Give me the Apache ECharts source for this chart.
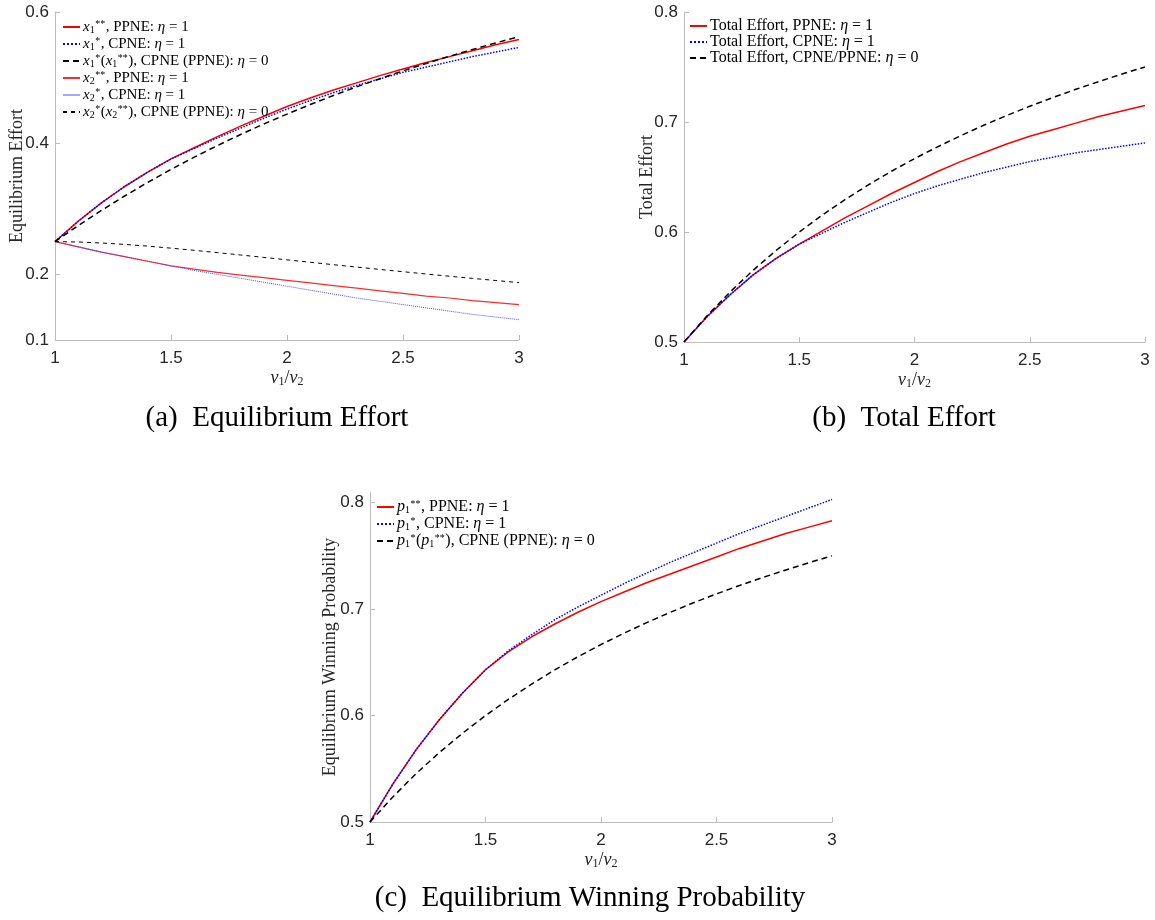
<!DOCTYPE html>
<html>
<head>
<meta charset="utf-8">
<script src="https://cdn.jsdelivr.net/npm/echarts@6/dist/echarts.min.js"></script>
<style>html,body{margin:0;padding:0;background:#fff;}#c{width:1155px;height:920px;}</style>
</head>
<body>
<div id="c"></div>
<script>
// x = v1/v2
const ratio = [1.0,1.1,1.2,1.3,1.4,1.5,1.6,1.7,1.8,1.9,2.0,2.1,2.2,2.3,2.4,2.5,2.6,2.7,2.8,2.9,3.0];
const xTicks = [1, 1.5, 2, 2.5, 3];

// (a) Equilibrium effort
const x1PPNE = [0.25,0.281,0.309,0.334,0.356,0.376,0.393,0.410,0.426,0.441,0.456,0.469,0.481,0.492,0.503,0.513,0.523,0.532,0.541,0.550,0.558];
const x1CPNE = [0.25,0.281,0.309,0.334,0.356,0.376,0.392,0.408,0.423,0.438,0.452,0.465,0.477,0.488,0.498,0.508,0.516,0.524,0.532,0.539,0.546];
const x1Eta0 = [0.25,0.2744,0.2975,0.3195,0.3403,0.36,0.3787,0.3964,0.4133,0.4293,0.4444,0.4589,0.4727,0.4858,0.4983,0.5102,0.5216,0.5325,0.5429,0.5529,0.5625];
const x2PPNE = [0.25,0.242,0.234,0.227,0.220,0.213,0.208,0.203,0.199,0.195,0.191,0.187,0.183,0.179,0.175,0.171,0.167,0.164,0.160,0.157,0.154];
const x2CPNE = [0.25,0.242,0.234,0.227,0.220,0.213,0.206,0.200,0.194,0.188,0.182,0.176,0.170,0.164,0.159,0.154,0.149,0.144,0.139,0.135,0.131];
const x2Eta0 = [0.25,0.2494,0.2479,0.2457,0.2431,0.24,0.2367,0.2332,0.2296,0.2259,0.2222,0.2185,0.2148,0.2112,0.2076,0.2041,0.2006,0.1972,0.1939,0.1907,0.1875];
const yTicksA = [0.1, 0.2, 0.4, 0.6];

// (b) Total effort
const totPPNE = [0.5,0.523,0.543,0.561,0.576,0.589,0.601,0.613,0.624,0.635,0.645,0.655,0.664,0.672,0.680,0.687,0.693,0.699,0.705,0.710,0.715];
const totCPNE = [0.5,0.523,0.543,0.561,0.576,0.589,0.599,0.609,0.618,0.627,0.635,0.642,0.648,0.654,0.659,0.664,0.668,0.672,0.675,0.678,0.681];
const totEta0 = [0.5,0.5238,0.5455,0.5652,0.5833,0.6,0.6154,0.6296,0.6429,0.6552,0.6667,0.6774,0.6875,0.6970,0.7059,0.7143,0.7222,0.7297,0.7368,0.7436,0.75];
const yTicksB = [0.5, 0.6, 0.7, 0.8];

// (c) Winning probability
const pPPNE = [0.5,0.536,0.568,0.596,0.621,0.643,0.660,0.674,0.686,0.697,0.707,0.716,0.725,0.733,0.741,0.749,0.757,0.764,0.771,0.777,0.783];
const pCPNE = [0.5,0.536,0.568,0.596,0.621,0.643,0.661,0.676,0.690,0.702,0.713,0.724,0.734,0.744,0.753,0.762,0.771,0.779,0.787,0.795,0.803];
const pEta0 = [0.5,0.5238,0.5455,0.5652,0.5833,0.6,0.6154,0.6296,0.6429,0.6552,0.6667,0.6774,0.6875,0.6970,0.7059,0.7143,0.7222,0.7297,0.7368,0.7436,0.75];
const yTicksC = [0.5, 0.6, 0.7, 0.8];

const pts = arr => ratio.map((r, i) => [r, arr[i]]);

const SERIF = 'Liberation Serif';
const SANS = 'Liberation Sans';
const AX = '#bcbcbc';
const TXT = '#262626';

function mathRich(fs) {
  return {
    t: {fontFamily: SERIF, fontSize: fs, color: '#000', lineHeight: 16, verticalAlign: 'middle'},
    i: {fontFamily: SERIF, fontSize: fs, fontStyle: 'italic', color: '#000', lineHeight: 16, verticalAlign: 'middle'},
    sb: {fontFamily: SERIF, fontSize: 10, color: '#000', lineHeight: 16, verticalAlign: 'bottom', padding: [7, 0, 0, 0]},
    sp: {fontFamily: SERIF, fontSize: 10, fontStyle: 'italic', color: '#000', lineHeight: 16, verticalAlign: 'top', padding: [0, 1, 6, 0]}
  };
}

const labels = {
  a1: '{i|x}{sb|1}{sp|**}{t|, PPNE: }{i|η}{t| = 1}',
  a2: '{i|x}{sb|1}{sp|*}{t|, CPNE: }{i|η}{t| = 1}',
  a3: '{i|x}{sb|1}{sp|*}{t|(}{i|x}{sb|1}{sp|**}{t|), CPNE (PPNE): }{i|η}{t| = 0}',
  a4: '{i|x}{sb|2}{sp|**}{t|, PPNE: }{i|η}{t| = 1}',
  a5: '{i|x}{sb|2}{sp|*}{t|, CPNE: }{i|η}{t| = 1}',
  a6: '{i|x}{sb|2}{sp|*}{t|(}{i|x}{sb|2}{sp|**}{t|), CPNE (PPNE): }{i|η}{t| = 0}',
  b1: '{t|Total Effort, PPNE: }{i|η}{t| = 1}',
  b2: '{t|Total Effort, CPNE: }{i|η}{t| = 1}',
  b3: '{t|Total Effort, CPNE/PPNE: }{i|η}{t| = 0}',
  c1: '{i|p}{sb|1}{sp|**}{t|, PPNE: }{i|η}{t| = 1}',
  c2: '{i|p}{sb|1}{sp|*}{t|, CPNE: }{i|η}{t| = 1}',
  c3: '{i|p}{sb|1}{sp|*}{t|(}{i|p}{sb|1}{sp|**}{t|), CPNE (PPNE): }{i|η}{t| = 0}'
};

const grids = [
  {left: 55, top: 12, width: 464, height: 328},
  {left: 684, top: 12, width: 461, height: 330},
  {left: 370, top: 492, width: 462, height: 330}
];

function xAxis(gi) {
  return {
    type: 'value', gridIndex: gi, min: 1, max: 3, interval: 0.5,
    name: '{i|v}{s|1}{t|/}{i|v}{s|2}', nameLocation: 'middle', nameGap: 28, nameMoveOverlap: false,
    nameTextStyle: {rich: {
      i: {fontFamily: SERIF, fontSize: 18, fontStyle: 'italic', color: TXT, verticalAlign: 'middle', lineHeight: 20},
      t: {fontFamily: SERIF, fontSize: 18, color: TXT, verticalAlign: 'middle', lineHeight: 20},
      s: {fontFamily: SERIF, fontSize: 12, color: TXT, verticalAlign: 'bottom', lineHeight: 20, padding: [8, 0, 0, 0]}
    }},
    axisLine: {show: true, onZero: false, lineStyle: {color: AX, width: 1}},
    axisTick: {show: true, inside: true, length: 5, lineStyle: {color: AX}},
    axisLabel: {color: TXT, fontFamily: SANS, fontSize: 17, margin: 10, showMinLabel: true, showMaxLabel: true},
    splitLine: {show: false}
  };
}

function yAxis(gi, min, max, ticks, name, gap) {
  return {
    type: 'value', gridIndex: gi, min: min, max: max,
    name: name, nameLocation: 'middle', nameGap: gap, nameMoveOverlap: false,
    nameTextStyle: {fontFamily: SERIF, fontSize: 18, color: TXT},
    axisLine: {show: true, onZero: false, lineStyle: {color: AX, width: 1}},
    axisTick: {show: true, inside: true, length: 5, lineStyle: {color: AX}, customValues: ticks},
    axisLabel: {color: TXT, fontFamily: SANS, fontSize: 17, margin: 6, customValues: ticks,
      formatter: v => String(+v.toFixed(2))},
    splitLine: {show: false}
  };
}

function line(name, gi, data, color, width, type, z) {
  return {
    type: 'line', name: name, xAxisIndex: gi, yAxisIndex: gi, data: pts(data),
    symbol: 'none', showSymbol: false, smooth: false, z: z || 2,
    lineStyle: {color: color, width: width, type: type},
    itemStyle: {color: color},
    emphasis: {disabled: true}, silent: true, animation: false
  };
}

function legend(left, top, names, fs, solidOverride) {
  return {
    orient: 'vertical', left: left, top: top, itemWidth: 17, itemHeight: 10, itemGap: 0,
    padding: 0, selectedMode: false,
    itemStyle: {opacity: 0},
    data: names.map(n => (solidOverride && solidOverride[n]) ? {name: n, lineStyle: solidOverride[n]} : n),
    formatter: n => labels[n],
    textStyle: {rich: mathRich(fs), padding: [0, 0, 0, -2]}
  };
}

const CAP = '29px "Liberation Serif"';
const option = {
  animation: false,
  backgroundColor: '#fff',
  grid: grids,
  xAxis: [xAxis(0), xAxis(1), xAxis(2)],
  yAxis: [
    yAxis(0, 0.1, 0.6, yTicksA, 'Equilibrium Effort', 29),
    yAxis(1, 0.5, 0.8, yTicksB, 'Total Effort', 28),
    yAxis(2, 0.5, 0.81, yTicksC, 'Equilibrium Winning Probability', 31)
  ],
  legend: [
    legend(62, 18, ['a1','a2','a3','a4','a5','a6'], 15, {a5: {type: 'solid', width: 1}}),
    legend(689, 18, ['b1','b2','b3'], 16),
    legend(376, 498, ['c1','c2','c3'], 16)
  ],
  series: [
    line('a1', 0, x1PPNE, '#ff0000', 1.5, 'solid', 2),
    line('a2', 0, x1CPNE, '#0000ff', 1.5, 'dotted', 3),
    line('a3', 0, x1Eta0, '#000000', 1.5, [6, 4], 4),
    line('a4', 0, x2PPNE, '#ff2a2a', 1.2, 'solid', 2),
    line('a5', 0, x2CPNE, '#4d4dff', 1, 'dotted', 3),
    line('a6', 0, x2Eta0, '#000000', 1, [4, 4], 4),
    line('b1', 1, totPPNE, '#ff0000', 1.5, 'solid', 2),
    line('b2', 1, totCPNE, '#0000ff', 1.5, 'dotted', 3),
    line('b3', 1, totEta0, '#000000', 1.5, [6, 4], 4),
    line('c1', 2, pPPNE, '#ff0000', 1.5, 'solid', 2),
    line('c2', 2, pCPNE, '#0000ff', 1.5, 'dotted', 3),
    line('c3', 2, pEta0, '#000000', 1.5, [6, 4], 4)
  ],
  graphic: [
    {type: 'text', style: {text: '(a)  Equilibrium Effort', font: CAP, fill: '#000', align: 'center', verticalAlign: 'middle'}, position: [277, 418]},
    {type: 'text', style: {text: '(b)  Total Effort', font: CAP, fill: '#000', align: 'center', verticalAlign: 'middle'}, position: [904, 418]},
    {type: 'text', style: {text: '(c)  Equilibrium Winning Probability', font: CAP, fill: '#000', align: 'center', verticalAlign: 'middle'}, position: [590, 898]}
  ]
};

const chart = echarts.init(document.getElementById('c'), null, {renderer: 'canvas'});
chart.setOption(option);
</script>
</body>
</html>
